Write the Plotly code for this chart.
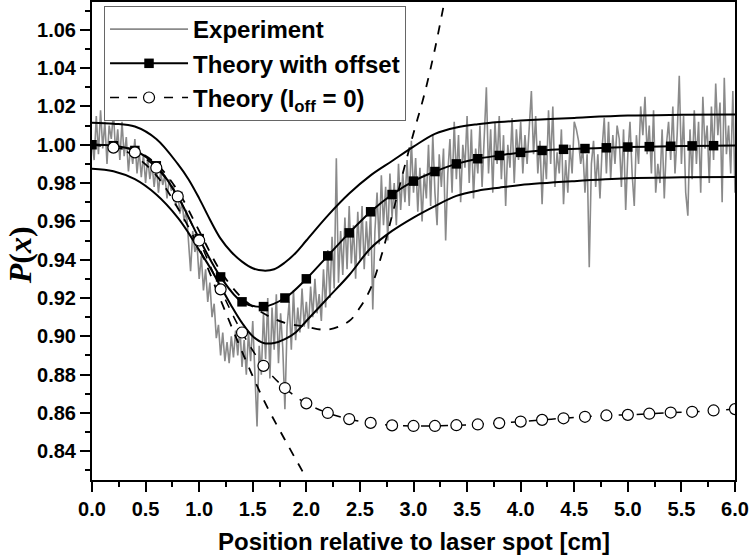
import numpy as np
import plotly.graph_objects as go

# ---------------- data ----------------
exp_step = 0.02
exp_y = [
    # 0.00 - 0.98
    1.002, 0.992, 1.015, 0.995, 1.018, 0.998, 1.012, 0.990, 1.010, 1.003,
    1.017, 0.996, 1.008, 0.992, 1.012, 0.994, 1.004, 0.986, 0.999, 0.990,
    1.003, 0.985, 0.997, 0.983, 0.995, 0.980, 0.993, 0.982, 0.990, 0.978,
    0.989, 0.975, 0.986, 0.979, 0.984, 0.972, 0.982, 0.976, 0.979, 0.968,
    0.976, 0.964, 0.970, 0.960, 0.966, 0.952, 0.934, 0.955, 0.944, 0.948,
    # 1.00 - 1.98
    0.930, 0.942, 0.924, 0.935, 0.918, 0.928, 0.910, 0.917, 0.899, 0.906,
    0.890, 0.902, 0.887, 0.897, 0.886, 0.900, 0.889, 0.903, 0.890, 0.905,
    0.884, 0.898, 0.880, 0.902, 0.887, 0.908, 0.876, 0.853, 0.895, 0.880,
    0.912, 0.888, 0.920, 0.878, 0.915, 0.893, 0.922, 0.886, 0.912, 0.894,
    0.862, 0.905, 0.918, 0.893, 0.924, 0.898, 0.915, 0.902, 0.925, 0.905,
    # 2.00 - 2.98
    0.918, 0.904, 0.926, 0.910, 0.930, 0.912, 0.922, 0.908, 0.935, 0.915,
    0.945, 0.920, 0.952, 0.925, 0.993, 0.928, 0.955, 0.932, 0.962, 0.935,
    0.968, 0.938, 0.958, 0.930, 0.965, 0.940, 0.968, 0.935, 0.960, 0.942,
    0.966, 0.914, 0.955, 0.975, 0.948, 0.984, 0.958, 0.978, 0.950, 0.985,
    0.962, 0.980, 0.958, 0.990, 0.966, 0.985, 0.970, 0.992, 0.968, 1.002,
    # 3.00 - 3.98
    0.975, 0.993, 0.965, 0.988, 0.960, 0.985, 0.972, 1.000, 0.968, 1.005,
    0.975, 0.958, 0.995, 0.978, 0.998, 0.950, 0.985, 1.003, 0.975, 1.012,
    0.982, 1.005, 0.970, 1.000, 0.988, 1.015, 0.980, 1.008, 0.972, 0.998,
    0.985, 1.010, 0.978, 1.002, 1.030, 0.985, 1.008, 0.975, 1.012, 0.990,
    1.015, 0.982, 1.005, 0.968, 1.000, 0.988, 1.014, 0.980, 1.008, 0.992,
    # 4.00 - 4.98
    1.012, 0.985, 1.005, 0.990, 1.010, 1.028, 0.995, 1.015, 0.985, 1.002,
    0.969, 0.998, 0.982, 1.018, 0.990, 1.020, 0.978, 0.996, 0.985, 1.008,
    0.969, 0.992, 0.975, 1.000, 0.985, 1.012, 1.008, 1.002, 0.990, 0.998,
    0.975, 0.995, 0.936, 0.990, 1.002, 0.978, 0.995, 0.972, 0.998, 1.014,
    0.985, 1.012, 0.982, 1.005, 0.990, 1.010, 1.003, 0.978, 1.008, 0.966,
    # 5.00 - 6.00
    0.995, 1.012, 0.985, 0.968, 1.005, 0.990, 1.020, 1.005, 1.025, 0.995,
    1.010, 0.985, 1.018, 0.975, 0.990, 0.980, 1.008, 0.972, 1.000, 1.012,
    0.992, 1.020, 0.985, 1.005, 1.036, 0.990, 1.015, 0.975, 0.963, 1.008,
    0.982, 1.018, 0.990, 1.012, 0.975, 1.025, 0.998, 1.010, 0.980, 1.020,
    0.992, 1.032, 1.005, 1.022, 0.970, 1.035, 0.995, 1.010, 0.985, 1.028,
    0.975,
]
exp_x = np.round(np.arange(len(exp_y)) * exp_step, 3)

theory_x = [round(0.2 * i, 1) for i in range(31)]
offset_y = [1.000, 0.9995, 0.997, 0.989, 0.973, 0.951, 0.931, 0.918, 0.9155, 0.920,
            0.930, 0.942, 0.954, 0.965, 0.974, 0.981, 0.986, 0.990, 0.9927, 0.9944,
            0.996, 0.997, 0.9976, 0.998, 0.9984, 0.9988, 0.999, 0.9992, 0.9994, 0.9995,
            0.9996]
nooff_y = [1.000, 0.9985, 0.996, 0.988, 0.973, 0.950, 0.9245, 0.902, 0.8846, 0.873,
           0.865, 0.860, 0.8568, 0.8548, 0.8535, 0.8532, 0.8532, 0.8536, 0.854, 0.8547,
           0.8555, 0.8564, 0.8572, 0.858, 0.8587, 0.859, 0.8596, 0.8602, 0.8606, 0.8613,
           0.862]

upper_x = [0, 0.2, 0.4, 0.6, 0.8, 0.9, 1.0, 1.1, 1.2, 1.3, 1.4, 1.5, 1.6, 1.7, 1.8,
           1.9, 2.0, 2.2, 2.4, 2.6, 2.8, 3.0, 3.2, 3.4, 3.6, 3.8, 4.0, 4.5, 5.0, 5.5, 6.0]
upper_y = [1.0115, 1.011, 1.0095, 1.003, 0.990, 0.982, 0.972, 0.961, 0.951, 0.944,
           0.939, 0.9355, 0.9343, 0.935, 0.9385, 0.9435, 0.950, 0.963, 0.9745, 0.984,
           0.9915, 0.999, 1.0057, 1.009, 1.0107, 1.0118, 1.0126, 1.014, 1.0152, 1.0156,
           1.0158]

lower_x = [0, 0.2, 0.4, 0.6, 0.8, 0.9, 1.0, 1.1, 1.2, 1.3, 1.4, 1.5, 1.6, 1.7, 1.8,
           1.9, 2.0, 2.2, 2.4, 2.6, 2.8, 3.0, 3.2, 3.4, 3.6, 3.8, 4.0, 4.5, 5.0, 5.5, 6.0]
lower_y = [0.9875, 0.9862, 0.982, 0.974, 0.962, 0.954, 0.945, 0.936, 0.926, 0.916,
           0.907, 0.900, 0.8965, 0.8965, 0.8985, 0.902, 0.908, 0.920, 0.932, 0.946,
           0.955, 0.962, 0.968, 0.9733, 0.976, 0.9776, 0.979, 0.981, 0.9825, 0.983,
           0.9832]

steep_x = [0, 0.2, 0.4, 0.6, 0.8, 1.0, 1.2, 1.4, 1.6, 1.8, 2.0]
steep_y = [1.000, 0.999, 0.994, 0.984, 0.967, 0.946, 0.919, 0.892, 0.867, 0.846, 0.826]

dip_x = [0, 0.2, 0.4, 0.6, 0.8, 1.0, 1.2, 1.4, 1.6, 1.8, 2.0, 2.2, 2.4, 2.5, 2.6,
         2.7, 2.8, 2.9, 3.0, 3.1, 3.2, 3.3]
dip_y = [1.000, 0.9995, 0.997, 0.990, 0.976, 0.955, 0.934, 0.920, 0.912, 0.907,
         0.905, 0.9035, 0.908, 0.915, 0.925, 0.942, 0.963, 0.985, 1.006, 1.026,
         1.050, 1.078]

x_ticks = [0.0, 0.5, 1.0, 1.5, 2.0, 2.5, 3.0, 3.5, 4.0, 4.5, 5.0, 5.5, 6.0]
y_ticks = [0.84, 0.86, 0.88, 0.90, 0.92, 0.94, 0.96, 0.98, 1.00, 1.02, 1.04, 1.06]

# ---------------- figure ----------------
fig = go.Figure()

fig.add_trace(go.Scatter(x=exp_x, y=exp_y, mode="lines", name="Experiment",
                         line=dict(color="#8a8a8a", width=1.6)))

for bx, by in ((upper_x, upper_y), (lower_x, lower_y)):
    fig.add_trace(go.Scatter(x=bx, y=by, mode="lines", showlegend=False,
                             line=dict(color="black", width=2, shape="spline"),
                             hoverinfo="skip"))

for dx, dy in ((steep_x, steep_y), (dip_x, dip_y)):
    fig.add_trace(go.Scatter(x=dx, y=dy, mode="lines", showlegend=False,
                             line=dict(color="black", width=1.8, dash="dash", shape="spline"),
                             hoverinfo="skip"))

# theory with offset: markers up to 5.8, line continues to 6.0
fig.add_trace(go.Scatter(x=theory_x[-2:], y=offset_y[-2:], mode="lines", showlegend=False,
                         line=dict(color="black", width=2), hoverinfo="skip"))
fig.add_trace(go.Scatter(x=theory_x[:-1], y=offset_y[:-1], mode="lines+markers",
                         name="Theory with offset",
                         line=dict(color="black", width=2, shape="spline"),
                         marker=dict(symbol="square", size=9.5, color="black")))

# theory without offset: markers start at 0.2
fig.add_trace(go.Scatter(x=theory_x[:2], y=nooff_y[:2], mode="lines", showlegend=False,
                         line=dict(color="black", width=1.5, dash="dash"), hoverinfo="skip"))
fig.add_trace(go.Scatter(x=theory_x[1:], y=nooff_y[1:], mode="lines+markers",
                         name="Theory (I<sub>off</sub> = 0)",
                         line=dict(color="black", width=1.5, dash="dash", shape="spline"),
                         marker=dict(symbol="circle", size=11, color="white",
                                     line=dict(color="black", width=1.2))))

axis_common = dict(
    showline=True, linecolor="black", linewidth=2, mirror=True,
    ticks="outside", ticklen=10, tickwidth=2, tickcolor="black",
    showgrid=False, zeroline=False, automargin=False,
    tickfont=dict(family="Liberation Sans, Arial", size=20, color="black", weight="bold"),
)

fig.update_xaxes(range=[0, 6], tickvals=x_ticks, ticktext=[f"{v:.1f}" for v in x_ticks],
                 minor=dict(dtick=0.25, ticklen=5, tickwidth=2, tickcolor="black", ticks="outside"),
                 **axis_common)
fig.update_yaxes(range=[0.825, 1.0745], tickvals=y_ticks, ticktext=[f"{v:.2f}" for v in y_ticks],
                 minor=dict(dtick=0.01, tick0=0.8, ticklen=5, tickwidth=2, tickcolor="black", ticks="outside"),
                 **axis_common)

fig.update_layout(
    width=749, height=557,
    margin=dict(l=92, r=14, t=2, b=77),
    paper_bgcolor="white", plot_bgcolor="white",
    font=dict(family="Liberation Sans, Arial", color="black"),
    showlegend=True,
    legend=dict(x=0.0187, y=0.9916, xanchor="left", yanchor="top",
                bgcolor="white", bordercolor="#666", borderwidth=1,
                font=dict(family="Liberation Sans, Arial", size=24, color="black", weight="bold"),
                itemwidth=78, tracegroupgap=0),
    annotations=[
        dict(text="Position relative to laser spot [cm]", xref="paper", yref="paper",
             x=0.5, y=-0.128, xanchor="center", yanchor="middle", showarrow=False,
             font=dict(family="Liberation Sans, Arial", size=24, color="black", weight="bold")),
        dict(text="<i>P</i>(<i>x</i>)", xref="paper", yref="paper",
             x=-0.112, y=0.47, xanchor="center", yanchor="middle", showarrow=False,
             textangle=-90,
             font=dict(family="Liberation Serif, Times New Roman", size=32, color="black",
                       weight="bold")),
    ],
)

fig.write_html("out.html", config={"displayModeBar": False},
               post_script="document.body.style.margin='0';")
